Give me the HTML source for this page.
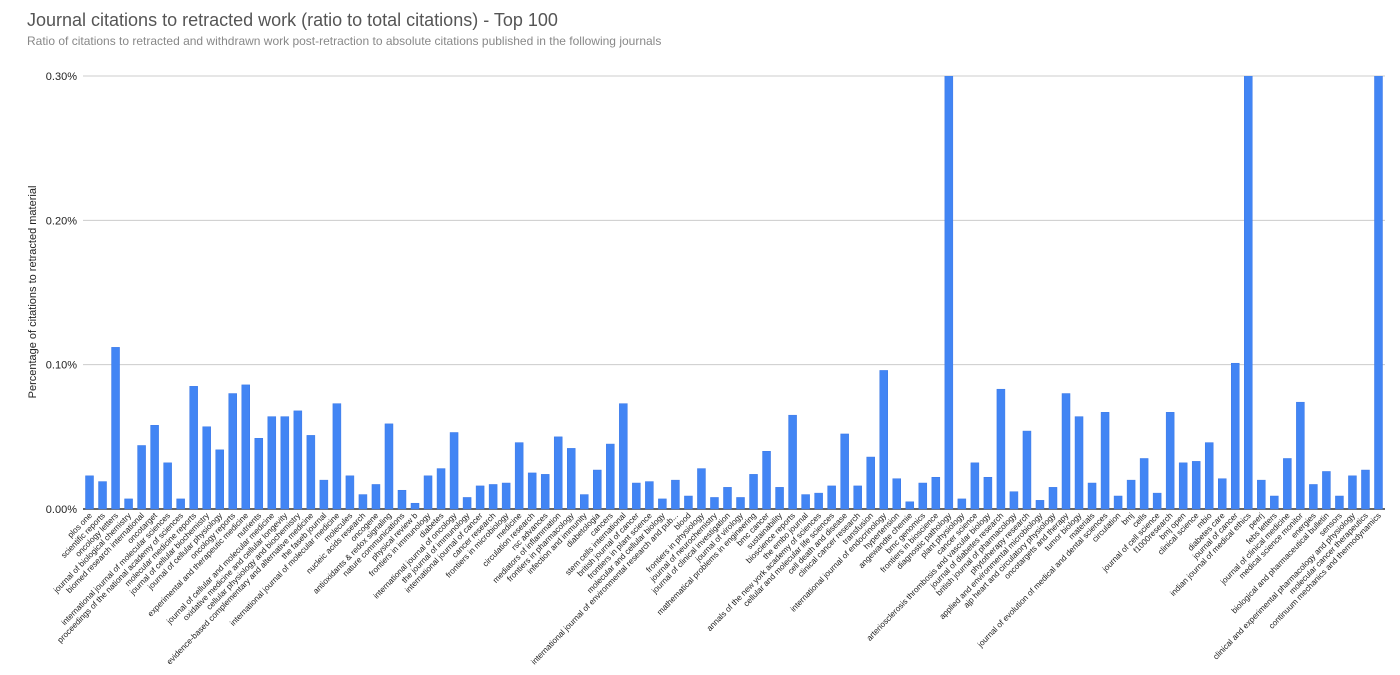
<!DOCTYPE html>
<html><head><meta charset="utf-8">
<style>
body{margin:0;background:#fff;width:1400px;height:670px;overflow:hidden;font-family:"Liberation Sans",Arial,sans-serif}
</style></head>
<body>
<svg id="chart" width="1400" height="670" xmlns="http://www.w3.org/2000/svg" font-family="Liberation Sans, Arial, sans-serif">
<text x="27" y="26" font-size="18" fill="#555">Journal citations to retracted work (ratio to total citations) - Top 100</text>
<text x="27" y="45" font-size="12" fill="#888">Ratio of citations to retracted and withdrawn work post-retraction to absolute citations published in the following journals</text>
<text transform="translate(36,292) rotate(-90)" text-anchor="middle" font-size="11" fill="#222">Percentage of citations to retracted material</text>
<defs><clipPath id="plotclip"><rect x="80" y="76" width="1310" height="434"/></clipPath></defs>
<g id="grid"></g>
<g id="bars" clip-path="url(#plotclip)"></g>
<g id="xlabels"></g>
</svg>
<script>
const categories=["plos one","scientific reports","oncology letters","journal of biological chemistry","biomed research international","oncotarget","international journal of molecular sciences","proceedings of the national academy of sciences","molecular medicine reports","journal of cellular biochemistry","journal of cellular physiology","oncology reports","experimental and therapeutic medicine","nutrients","journal of cellular and molecular medicine","oxidative medicine and cellular longevity","cellular physiology and biochemistry","evidence-based complementary and alternative medicine","the faseb journal","international journal of molecular medicine","molecules","nucleic acids research","oncogene","antioxidants & redox signaling","nature communications","physical review b","frontiers in immunology","diabetes","international journal of oncology","the journal of immunology","international journal of cancer","cancer research","frontiers in microbiology","medicine","circulation research","rsc advances","mediators of inflammation","frontiers in pharmacology","infection and immunity","diabetologia","cancers","stem cells international","british journal of cancer","frontiers in plant science","molecular and cellular biology","international journal of environmental research and pub...","blood","frontiers in physiology","journal of neurochemistry","journal of clinical investigation","journal of virology","mathematical problems in engineering","bmc cancer","sustainability","bioscience reports","the embo journal","annals of the new york academy of sciences","cellular and molecular life sciences","cell death and disease","clinical cancer research","transfusion","international journal of endocrinology","hypertension","angewandte chemie","bmc genomics","frontiers in bioscience","diagnostic pathology","plant physiology","cancer science","arteriosclerosis thrombosis and vascular biology","journal of diabetes research","british journal of pharmacology","phytotherapy research","applied and environmental microbiology","ajp heart and circulatory physiology","oncotargets and therapy","tumor biology","materials","journal of evolution of medical and dental sciences","circulation","bmj","cells","journal of cell science","f1000research","bmj open","clinical science","mbio","diabetes care","journal of cancer","indian journal of medical ethics","peerj","febs letters","journal of clinical medicine","medical science monitor","energies","biological and pharmaceutical bulletin","sensors","clinical and experimental pharmacology and physiology","molecular cancer therapeutics","continuum mechanics and thermodynamics"];
const values=[0.023,0.019,0.112,0.007,0.044,0.058,0.032,0.007,0.085,0.057,0.041,0.080,0.086,0.049,0.064,0.064,0.068,0.051,0.020,0.073,0.023,0.010,0.017,0.059,0.013,0.004,0.023,0.028,0.053,0.008,0.016,0.017,0.018,0.046,0.025,0.024,0.050,0.042,0.010,0.027,0.045,0.073,0.018,0.019,0.007,0.020,0.009,0.028,0.008,0.015,0.008,0.024,0.040,0.015,0.065,0.010,0.011,0.016,0.052,0.016,0.036,0.096,0.021,0.005,0.018,0.022,0.35,0.007,0.032,0.022,0.083,0.012,0.054,0.006,0.015,0.080,0.064,0.018,0.067,0.009,0.020,0.035,0.011,0.067,0.032,0.033,0.046,0.021,0.101,0.35,0.020,0.009,0.035,0.074,0.017,0.026,0.009,0.023,0.027,0.35];
const yTicks=[0,0.1,0.2,0.3];
const yTickLabels=["0.00%","0.10%","0.20%","0.30%"];

const NS="http://www.w3.org/2000/svg";
const X0=83,X1=1385,Y0=509,Y1=76,YMAX=0.3;
const step=(X1-X0)/categories.length;
function xCenter(i){return X0+step*(i+0.5);}
function yScale(v){return Y0-(v/YMAX)*(Y0-Y1);}
const grid=document.getElementById('grid'),bars=document.getElementById('bars'),xl=document.getElementById('xlabels');
yTicks.forEach((t,i)=>{
  const y=yScale(t);
  const l=document.createElementNS(NS,'line');
  
  
  l.setAttribute('x1',X0);l.setAttribute('x2',X1);l.setAttribute('y1',y);l.setAttribute('y2',y);
  l.setAttribute('stroke',t===0?'#333':'#ccc');l.setAttribute('stroke-width',t===0?1.5:1);
  grid.appendChild(l);
  const tx=document.createElementNS(NS,'text');
  
  
  tx.setAttribute('x',77);tx.setAttribute('y',y+4);tx.setAttribute('text-anchor','end');
  tx.setAttribute('font-size','11');tx.setAttribute('fill','#222');tx.textContent=yTickLabels[i];
  grid.appendChild(tx);
});
const bw=8;
values.forEach((v,i)=>{
  const cx=xCenter(i),y=yScale(v);
  const r=document.createElementNS(NS,'rect');
  
  
  r.setAttribute('x',cx-bw/2);r.setAttribute('y',y);r.setAttribute('width',bw);r.setAttribute('height',Y0-y);
  r.setAttribute('fill','#4285f4');r.setAttribute('stroke','#3b78e7');r.setAttribute('stroke-width','0.5');
  bars.appendChild(r);
});
categories.forEach((c,i)=>{
  const cx=xCenter(i);
  const t=document.createElementNS(NS,'text');
  
  
  t.setAttribute('transform','translate('+(cx+3)+',516) rotate(-46)');
  t.setAttribute('text-anchor','end');t.setAttribute('font-size','8.2');t.setAttribute('fill','#222');
  t.textContent=c;
  xl.appendChild(t);
});
</script>
</body></html>
